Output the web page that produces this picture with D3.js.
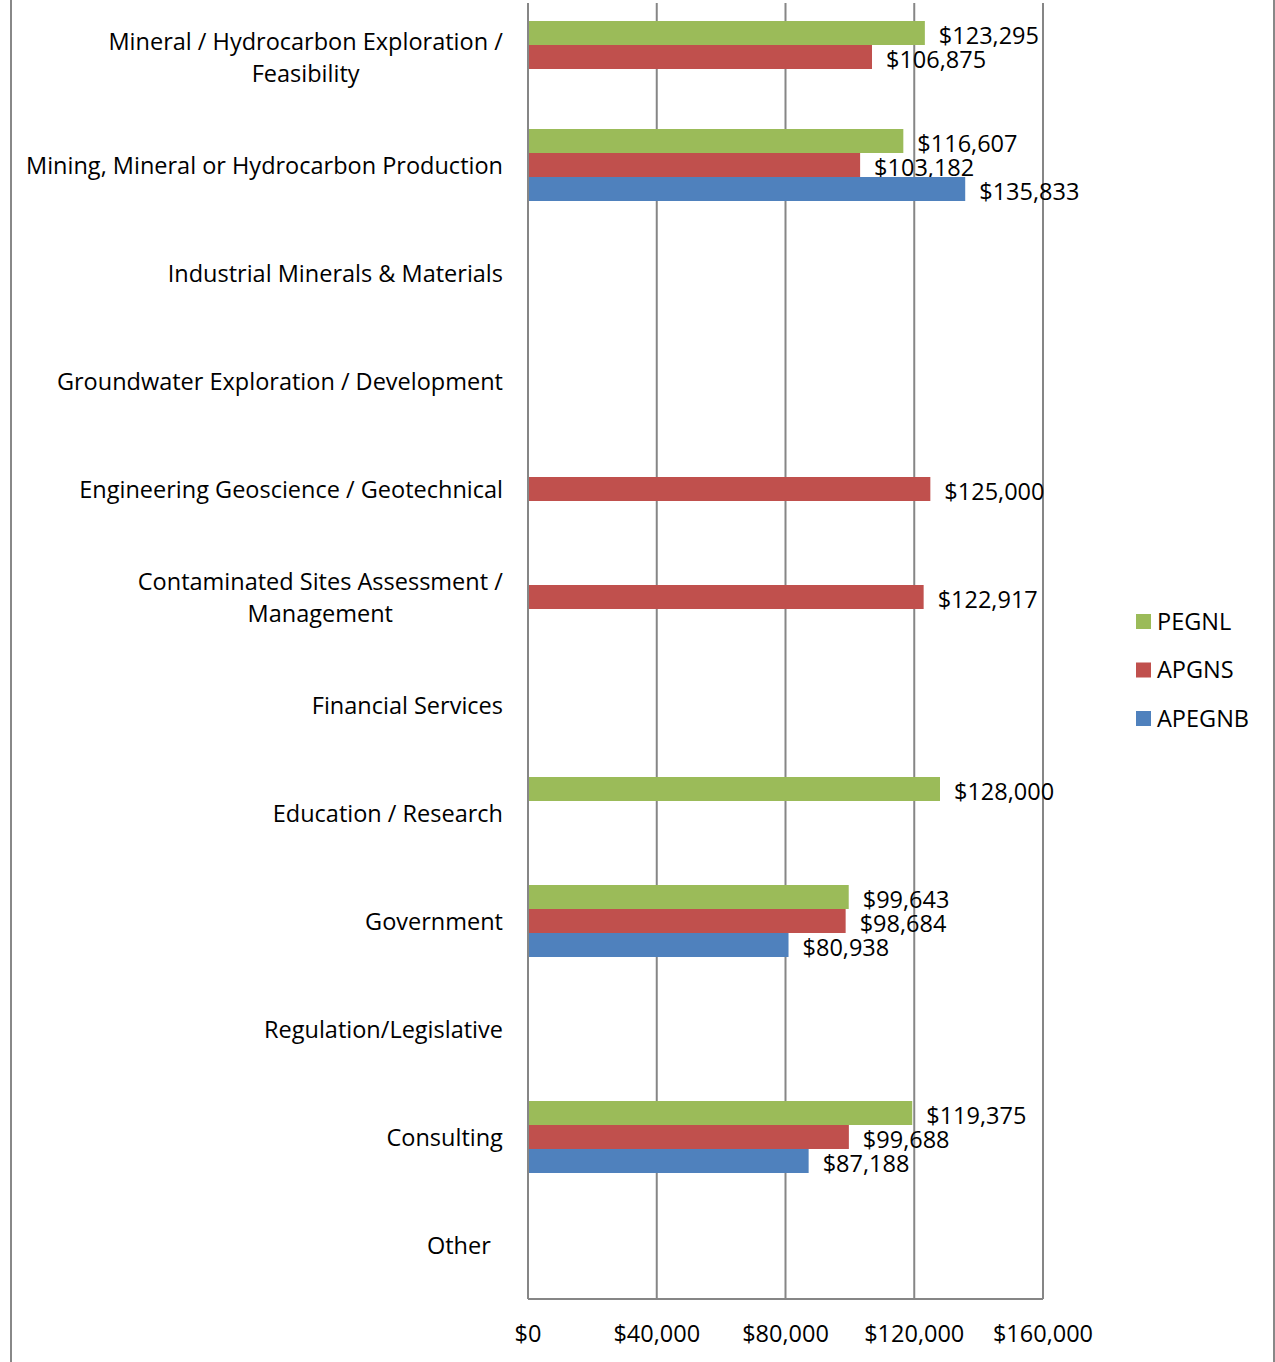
<html>
<head>
<style>
body { margin: 0; background: white; }
text { font-family: "Open Sans", Lato, sans-serif; fill: #000; }
</style>
</head>
<body>
<div id="plot"></div>
<script src="https://d3js.org/d3.v7.min.js"></script>
<script type="text/javascript">
// categories top to bottom
var categories = [
  ["Mineral / Hydrocarbon Exploration /", "Feasibility"],
  ["Mining, Mineral or Hydrocarbon Production"],
  ["Industrial Minerals & Materials"],
  ["Groundwater Exploration / Development"],
  ["Engineering Geoscience / Geotechnical"],
  ["Contaminated Sites Assessment /", "Management"],
  ["Financial Services"],
  ["Education / Research"],
  ["Government"],
  ["Regulation/Legislative"],
  ["Consulting"],
  ["Other\u00a0\u00a0"]
];
var seriesNames = ["PEGNL", "APGNS", "APEGNB"];
var seriesColors = ["#9bbb59", "#c0504d", "#4f81bd"];
// null = no bar
var pegnl  = [123295, 116607, null, null, null, null, null, 128000, 99643, null, 119375, null];
var apgns  = [106875, 103182, null, null, 125000, 122917, null, null, 98684, null, 99688, null];
var apegnb = [null, 135833, null, null, null, null, null, null, 80938, null, 87188, null];
var xTicks = [0, 40000, 80000, 120000, 160000];

var W = 1275, H = 1362;
var plotL = 528, plotR = 1043, plotT = 3, plotB = 1299;
var fs = "23.5px";

var svg = d3.select("#plot").append("svg")
  .attr("width", W).attr("height", H);

// outer chart border (left and right edges visible)
svg.append("line").attr("x1", 11).attr("x2", 11).attr("y1", 0).attr("y2", H)
  .attr("stroke", "#888").attr("stroke-width", 2);
svg.append("line").attr("x1", 1274).attr("x2", 1274).attr("y1", 0).attr("y2", H)
  .attr("stroke", "#888").attr("stroke-width", 2);

var x = d3.scaleLinear().domain([0, 160000]).range([plotL, plotR]);
var y = d3.scaleBand().domain(d3.range(categories.length)).range([plotT, plotB]);
var inner = d3.scaleBand().domain(d3.range(3)).range([0, 72]);

// gridlines
svg.append("g").selectAll("line")
  .data(xTicks.slice(1))
  .enter().append("line")
  .attr("x1", function(d){ return x(d); })
  .attr("x2", function(d){ return x(d); })
  .attr("y1", plotT).attr("y2", plotB)
  .attr("stroke", "#868686").attr("stroke-width", 2);

// x axis labels
var fmt = function(d){ return "$" + d3.format(",")(d); };
svg.append("g").selectAll("text")
  .data(xTicks)
  .enter().append("text")
  .attr("x", function(d){ return x(d); })
  .attr("y", 1333)
  .attr("dy", "0.38em")
  .attr("text-anchor", "middle")
  .style("font-size", fs)
  .text(fmt);

// bars
var allSeries = [pegnl, apgns, apegnb];
allSeries.forEach(function(vals, si){
  var data = vals.map(function(v, i){ return {i: i, v: v}; })
                 .filter(function(d){ return d.v != null; });
  var g = svg.append("g");
  g.selectAll("rect")
    .data(data)
    .enter().append("rect")
    .attr("x", x(0))
    .attr("y", function(d){ return y(d.i) + y.bandwidth()/2 - 36 + inner(si); })
    .attr("width", function(d){ return x(d.v) - x(0); })
    .attr("height", inner.bandwidth())
    .attr("fill", seriesColors[si]);
  g.selectAll("text")
    .data(data)
    .enter().append("text")
    .attr("x", function(d){ return x(d.v) + 14; })
    .attr("y", function(d){ return y(d.i) + y.bandwidth()/2 - 36 + inner(si) + inner.bandwidth()/2 + 2; })
    .attr("dy", "0.38em")
    .style("font-size", fs)
    .text(function(d){ return fmt(d.v); });
});

// axis lines
svg.append("line").attr("x1", plotL).attr("x2", plotL).attr("y1", plotT).attr("y2", plotB)
  .attr("stroke", "#868686").attr("stroke-width", 2);
svg.append("line").attr("x1", plotL).attr("x2", plotR).attr("y1", plotB).attr("y2", plotB)
  .attr("stroke", "#868686").attr("stroke-width", 2);

// category labels
var cat = svg.append("g").selectAll("text")
  .data(categories)
  .enter().append("text")
  .attr("text-anchor", "middle")
  .style("font-size", fs)
  .style("white-space", "pre")
  .attr("transform", function(d, i){ return "translate(0," + (y(i) + y.bandwidth()/2) + ")"; });
cat.selectAll("tspan")
  .data(function(d){ return d.map(function(s, k){ return {s: s, k: k, n: d.length}; }); })
  .enter().append("tspan")
  .attr("x", 0)
  .attr("y", function(d){ return (d.k - (d.n - 1)/2) * 32; })
  .attr("dy", "0.38em")
  .text(function(d){ return d.s; });
// right-align whole block at x=503, keep lines centered within block
cat.each(function(){
  var bb = this.getBBox();
  d3.select(this).selectAll("tspan").attr("x", 503 - bb.width/2);
});

// legend
var leg = svg.append("g").selectAll("g")
  .data(seriesNames)
  .enter().append("g")
  .attr("transform", function(d, i){ return "translate(1136," + (621 + i*48.5) + ")"; });
leg.append("rect").attr("x", 0).attr("y", -7).attr("width", 15).attr("height", 15)
  .attr("fill", function(d, i){ return seriesColors[i]; });
leg.append("text").attr("x", 21).attr("dy", "0.38em")
  .style("font-size", fs)
  .text(function(d){ return d; });
</script>
</body>
</html>
